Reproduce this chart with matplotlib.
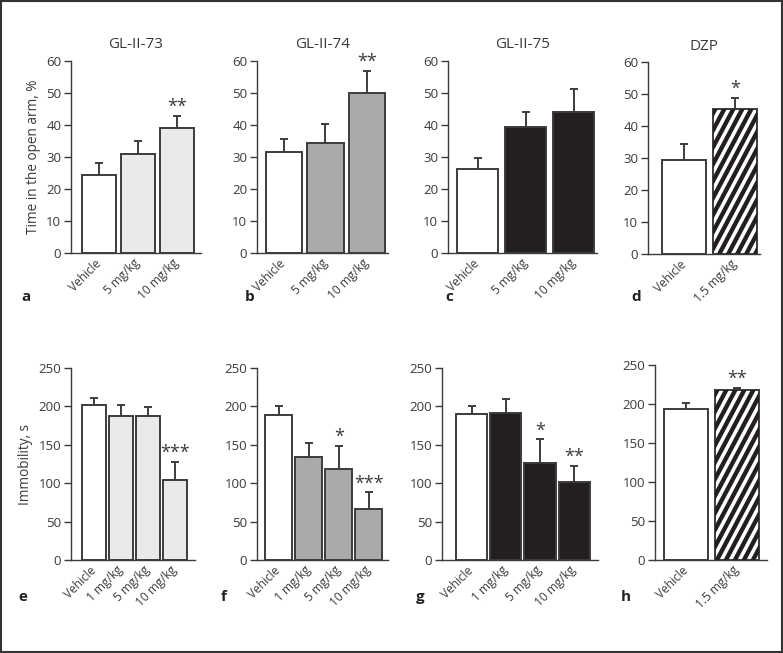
import matplotlib
matplotlib.use("Agg")
import matplotlib.pyplot as plt
from matplotlib.patches import Polygon, Rectangle
from matplotlib.transforms import ScaledTranslation
import numpy as np

plt.rcParams['font.family'] = ['Open Sans', 'DejaVu Sans']

# ---- data ----
top_titles = ["GL-II-73", "GL-II-74", "GL-II-75", "DZP"]
top_labels_3 = ["Vehicle", "5 mg/kg", "10 mg/kg"]
top_labels_2 = ["Vehicle", "1.5 mg/kg"]
bot_labels_4 = ["Vehicle", "1 mg/kg", "5 mg/kg", "10 mg/kg"]
bot_labels_2 = ["Vehicle", "1.5 mg/kg"]

a_mean = [24.4, 30.9, 39.0]
a_sem = [3.8, 4.0, 3.9]
a_sig = ["", "", "**"]
b_mean = [31.7, 34.5, 50.1]
b_sem = [4.0, 5.9, 6.9]
b_sig = ["", "", "**"]
c_mean = [26.2, 39.3, 44.1]
c_sem = [3.6, 4.8, 7.1]
c_sig = ["", "", ""]
d_mean = [29.5, 45.3]
d_sem = [4.8, 3.4]
d_sig = ["", "*"]

e_mean = [202, 187, 188, 104]
e_sem = [9.5, 15, 11, 24]
e_sig = ["", "", "", "***"]
f_mean = [189, 134, 119, 66]
f_sem = [11, 18, 30, 22]
f_sig = ["", "", "*", "***"]
g_mean = [190, 192, 126, 101]
g_sem = [10, 17, 31, 22]
g_sig = ["", "", "*", "**"]
h_mean = [193, 218.5]
h_sem = [8, 1.6]
h_sig = ["", "**"]

TXT = '#3a3a3a'
EDGE = '#3c3c3c'
LIGHT = '#e9eae9'
MID = '#a8aaac'
DARK = '#231f20'

W, H = 783, 653
fig = plt.figure(figsize=(W / 100, H / 100), dpi=100)


def px_axes(x0, x1, ytop, ybot):
    return fig.add_axes([x0 / W, (H - ybot) / H, (x1 - x0) / W, (ybot - ytop) / H])


def stripes(ax, bar, period=9, angle=62):
    # diagonal black stripes clipped to the bar
    bb = bar.get_window_extent()
    dx = bb.height / np.tan(np.radians(angle))
    xs = np.arange(bb.x0 - dx - period, bb.x1 + period, period)
    for x in xs:
        poly = Polygon([(x, bb.y0), (x + period * 0.55, bb.y0),
                        (x + period * 0.55 + dx, bb.y1), (x + dx, bb.y1)],
                       closed=True, facecolor=DARK, edgecolor='none',
                       transform=None, zorder=2.5)
        ax.add_artist(poly)
        poly.set_clip_path(bar)


def panel(rect, xlim, ylim, yticks, means, sems, sigs, labels, colors,
          width, title=None, ylabel=None, letter=None, letter_xy=None,
          hatch_idx=None):
    ax = px_axes(*rect)
    x = np.arange(len(means))
    ax.set_xlim(*xlim)
    ax.set_ylim(*ylim)
    bars = ax.bar(x, means, width=width, color=colors, edgecolor=EDGE,
                  linewidth=1.4, zorder=2)
    ax.errorbar(x, means, yerr=[np.zeros(len(sems)), sems], fmt='none',
                ecolor=EDGE, elinewidth=1.4, capsize=3, capthick=1.4, zorder=1.5)
    for xi, m, s, sg in zip(x, means, sems, sigs):
        if sg:
            ax.annotate(sg, (xi, m + s), xytext=(0, 0), textcoords='offset points',
                        ha='center', va='bottom', fontsize=13, color=TXT)
    ax.set_yticks(yticks)
    ax.set_xticks(x)
    ax.set_xticklabels(labels, rotation=45, ha='right', va='center',
                       rotation_mode='anchor', fontsize=8.6, color=TXT)
    shift = ScaledTranslation(2 / 100, 0, fig.dpi_scale_trans)
    for lab in ax.get_xticklabels():
        lab.set_transform(lab.get_transform() + shift)
    ax.tick_params(axis='x', length=0, pad=6)
    ax.tick_params(axis='y', length=5, width=1, color=EDGE, labelsize=9.5,
                   labelcolor=TXT, pad=2)
    for side in ['top', 'right']:
        ax.spines[side].set_visible(False)
    for side in ['left', 'bottom']:
        ax.spines[side].set_color(EDGE)
        ax.spines[side].set_linewidth(1)
    if title:
        ax.set_title(title, fontsize=11, color=TXT, pad=9)
    if ylabel:
        ax.set_ylabel(ylabel, fontsize=9.8, color=TXT, labelpad=4)
    if letter:
        fig.text(letter_xy[0] / W, 1 - letter_xy[1] / H, letter, fontsize=11,
                 fontweight='bold', color='#222222', ha='left', va='center')
    if hatch_idx is not None:
        b = bars[hatch_idx]
        b.set_facecolor('white')
        stripes(ax, b)
    return ax


top_y = (61, 253)
top_ticks = [0, 10, 20, 30, 40, 50, 60]
bot_y = (368, 560)
bot_ticks = [0, 50, 100, 150, 200, 250]

panel((71, 201) + top_y, (-0.72, 2.62), (0, 60), top_ticks, a_mean, a_sem, a_sig,
      top_labels_3, ['white', LIGHT, LIGHT], 0.87, title=top_titles[0],
      ylabel="Time in the open arm, %", letter='a', letter_xy=(21, 297))
panel((257, 388) + top_y, (-0.64, 2.5), (0, 60), top_ticks, b_mean, b_sem, b_sig,
      top_labels_3, ['white', MID, MID], 0.87, title=top_titles[1],
      letter='b', letter_xy=(245, 297))
panel((448, 597) + top_y, (-0.62, 2.49), (0, 60), top_ticks, c_mean, c_sem, c_sig,
      top_labels_3, ['white', DARK, DARK], 0.865, title=top_titles[2],
      letter='c', letter_xy=(445, 297))
panel((648, 760, 62, 254), (-0.72, 1.5), (0, 60), top_ticks, d_mean, d_sem, d_sig,
      top_labels_2, ['white', 'white'], 0.87, title=top_titles[3],
      letter='d', letter_xy=(631, 297), hatch_idx=1)

panel((71, 195) + bot_y, (-0.85, 3.74), (0, 250), bot_ticks, e_mean, e_sem, e_sig,
      bot_labels_4, ['white', LIGHT, LIGHT, LIGHT], 0.89,
      ylabel="Immobility, s", letter='e', letter_xy=(18, 597))
panel((257, 388) + bot_y, (-0.72, 3.64), (0, 250), bot_ticks, f_mean, f_sem, f_sig,
      bot_labels_4, ['white', MID, MID, MID], 0.9,
      letter='f', letter_xy=(221, 597))
panel((442, 598) + bot_y, (-0.87, 3.7), (0, 250), bot_ticks, g_mean, g_sem, g_sig,
      bot_labels_4, ['white', DARK, DARK, DARK], 0.91,
      letter='g', letter_xy=(416, 597))
panel((655, 767, 365, 560), (-0.61, 1.59), (0, 250), bot_ticks, h_mean, h_sem, h_sig,
      bot_labels_2, ['white', 'white'], 0.86,
      letter='h', letter_xy=(621, 597), hatch_idx=1)

# outer frame
fig.patches.append(Rectangle((0.001, 0.001), 0.998, 0.997, transform=fig.transFigure,
                             fill=False, edgecolor='#333333', linewidth=1.5))

fig.savefig("out.png", dpi=100)
